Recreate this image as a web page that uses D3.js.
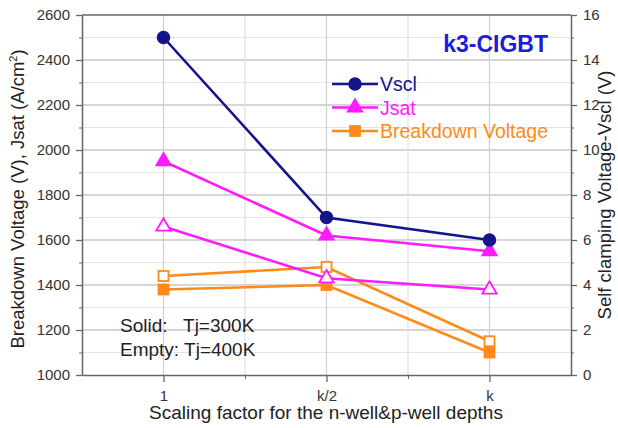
<!DOCTYPE html>
<html>
<head>
<meta charset="utf-8">
<script src="https://cdn.jsdelivr.net/npm/d3@7"></script>
<style>
  html, body { margin: 0; padding: 0; background: #fff; }
  svg { display: block; font-family: "Liberation Sans", Arial, sans-serif; }
</style>
</head>
<body>
<svg id="chart" width="618" height="428"></svg>
<script>
// Scaling factors (positions 1, 2, 3 on the x axis)
const categories = ["1", "k/2", "k"];
const xPos = [1, 2, 3];

// Self clamping voltage Vscl (V), right axis
const vsclSolid = [15, 7, 6];

// Saturation current density Jsat (A/cm²), left axis
const jsatSolid = [1950, 1620, 1550];
const jsatEmpty = [1660, 1430, 1380];

// Breakdown voltage (V), left axis
const bvSolid = [1380, 1400, 1100];
const bvEmpty = [1440, 1480, 1150];

const leftTicks = [1000, 1200, 1400, 1600, 1800, 2000, 2200, 2400, 2600];
const rightTicks = [0, 2, 4, 6, 8, 10, 12, 14, 16];

const colors = { vscl: "#14148c", jsat: "#ff1aff", bv: "#ff8a1a" };

const svg = d3.select("#chart");
const m = { left: 82, right: 571, top: 15, bottom: 375 };

const x = d3.scaleLinear().domain([0.5, 3.5]).range([m.left, m.right]);
const yL = d3.scaleLinear().domain([1000, 2600]).range([m.bottom, m.top]);
const yR = d3.scaleLinear().domain([0, 16]).range([m.bottom, m.top]);

// Grid lines
const grid = svg.append("g");
d3.range(1100, 2600, 100).forEach(v => {
  grid.append("line")
    .attr("x1", m.left).attr("x2", m.right)
    .attr("y1", yL(v)).attr("y2", yL(v))
    .attr("stroke", v % 200 === 0 ? "#c8c8c8" : "#e4e4e4")
    .attr("stroke-width", v % 200 === 0 ? 1.6 : 1);
});
[1, 1.5, 2, 2.5, 3].forEach(v => {
  grid.append("line")
    .attr("x1", x(v)).attr("x2", x(v))
    .attr("y1", m.top).attr("y2", m.bottom)
    .attr("stroke", Number.isInteger(v) ? "#cfcfcf" : "#e0e0e0")
    .attr("stroke-width", 1.2);
});

// Axes
const axisColor = "#666";
const fmtAxis = g => {
  g.selectAll(".domain").attr("stroke", axisColor).attr("stroke-width", 1.5);
  g.selectAll(".tick line").attr("stroke", axisColor).attr("stroke-width", 1.3);
  g.selectAll(".tick text").attr("fill", "#333").style("font-size", "15px");
};

svg.append("g").attr("transform", `translate(${m.left},0)`)
  .call(d3.axisLeft(yL).tickValues(leftTicks).tickFormat(d3.format("d"))
    .tickSize(6).tickSizeOuter(0).tickPadding(6))
  .call(fmtAxis);
svg.append("g").attr("transform", `translate(${m.left},0)`)
  .call(d3.axisLeft(yL).tickValues(d3.range(1100, 2600, 200)).tickSize(3).tickFormat(""))
  .call(g => { g.select(".domain").remove(); g.selectAll(".tick line").attr("stroke", axisColor); });

svg.append("g").attr("transform", `translate(${m.right},0)`)
  .call(d3.axisRight(yR).tickValues(rightTicks).tickSize(6).tickSizeOuter(0).tickPadding(6))
  .call(fmtAxis);
svg.append("g").attr("transform", `translate(${m.right},0)`)
  .call(d3.axisRight(yR).tickValues(d3.range(1, 16, 2)).tickSize(3).tickFormat(""))
  .call(g => { g.select(".domain").remove(); g.selectAll(".tick line").attr("stroke", axisColor); });

svg.append("g").attr("transform", `translate(0,${m.bottom})`)
  .call(d3.axisBottom(x).tickValues(xPos).tickSize(7).tickSizeOuter(0).tickPadding(8)
    .tickFormat((d, i) => categories[i]))
  .call(fmtAxis);
svg.append("g").attr("transform", `translate(0,${m.bottom})`)
  .call(d3.axisBottom(x).tickValues([1.5, 2.5]).tickSize(4).tickFormat(""))
  .call(g => { g.select(".domain").remove(); g.selectAll(".tick line").attr("stroke", axisColor); });

// top frame
svg.append("line").attr("x1", m.left).attr("x2", m.right)
  .attr("y1", m.top).attr("y2", m.top).attr("stroke", axisColor).attr("stroke-width", 1.5);

// Axis titles
svg.append("text")
  .attr("transform", `translate(24,${(m.top + m.bottom) / 2 + 4}) rotate(-90)`)
  .attr("text-anchor", "middle").attr("fill", "#222").style("font-size", "18.5px")
  .html('Breakdown Voltage (V), Jsat (A/cm<tspan dy="-7" style="font-size:11px">2</tspan><tspan dy="7">)</tspan>');
svg.append("text")
  .attr("transform", `translate(611,${(m.top + m.bottom) / 2}) rotate(-90)`)
  .attr("text-anchor", "middle").attr("fill", "#222").style("font-size", "18.5px")
  .text("Self clamping Voltage-Vscl (V)");
svg.append("text")
  .attr("x", 326).attr("y", 419)
  .attr("text-anchor", "middle").attr("fill", "#222").style("font-size", "19px")
  .text("Scaling factor for the n-well&p-well depths");

// Series
const line = d3.line();
function drawSeries(vals, yScale, color, shape, filled) {
  const pts = vals.map((v, i) => [x(xPos[i]), yScale(v)]);
  svg.append("path").attr("d", line(pts)).attr("fill", "none")
    .attr("stroke", color).attr("stroke-width", 2.6);
  pts.forEach(p => drawMarker(p[0], p[1], color, shape, filled));
}
function drawMarker(cx, cy, color, shape, filled) {
  const fill = filled ? color : "#fff";
  if (shape === "circle") {
    svg.append("circle").attr("cx", cx).attr("cy", cy).attr("r", 6)
      .attr("fill", fill).attr("stroke", color).attr("stroke-width", 1.5);
  } else if (shape === "triangle") {
    svg.append("path")
      .attr("d", d3.symbol(d3.symbolTriangle, 90)())
      .attr("transform", `translate(${cx},${cy})`)
      .attr("fill", fill).attr("stroke", color).attr("stroke-width", 1.8);
  } else {
    const s = 10;
    svg.append("rect").attr("x", cx - s / 2).attr("y", cy - s / 2)
      .attr("width", s).attr("height", s)
      .attr("fill", fill).attr("stroke", color).attr("stroke-width", 1.8);
  }
}

drawSeries(bvEmpty, yL, colors.bv, "square", false);
drawSeries(bvSolid, yL, colors.bv, "square", true);
drawSeries(jsatEmpty, yL, colors.jsat, "triangle", false);
drawSeries(jsatSolid, yL, colors.jsat, "triangle", true);
drawSeries(vsclSolid, yR, colors.vscl, "circle", true);

// Legend
const legend = [
  { name: "Vscl", color: colors.vscl, shape: "circle" },
  { name: "Jsat", color: colors.jsat, shape: "triangle" },
  { name: "Breakdown Voltage", color: colors.bv, shape: "square" }
];
legend.forEach((d, i) => {
  const ly = 84 + i * 23.5;
  svg.append("line").attr("x1", 332).attr("x2", 378).attr("y1", ly).attr("y2", ly)
    .attr("stroke", d.color).attr("stroke-width", 2.6);
  drawMarker(355, ly, d.color, d.shape, true);
  svg.append("text").attr("x", 380).attr("y", ly + 7)
    .attr("fill", d.color).style("font-size", "19.5px").text(d.name);
});

// Title
svg.append("text").attr("x", 548).attr("y", 52).attr("text-anchor", "end")
  .attr("fill", "#1c1ce0").style("font-size", "23px").style("font-weight", "bold")
  .text("k3-CIGBT");

// Temperature note
svg.append("text").attr("x", 120).attr("y", 332).attr("fill", "#222")
  .style("font-size", "19px").attr("xml:space", "preserve").text("Solid:   Tj=300K");
svg.append("text").attr("x", 120).attr("y", 356).attr("fill", "#222")
  .style("font-size", "19px").text("Empty: Tj=400K");
</script>
</body>
</html>
